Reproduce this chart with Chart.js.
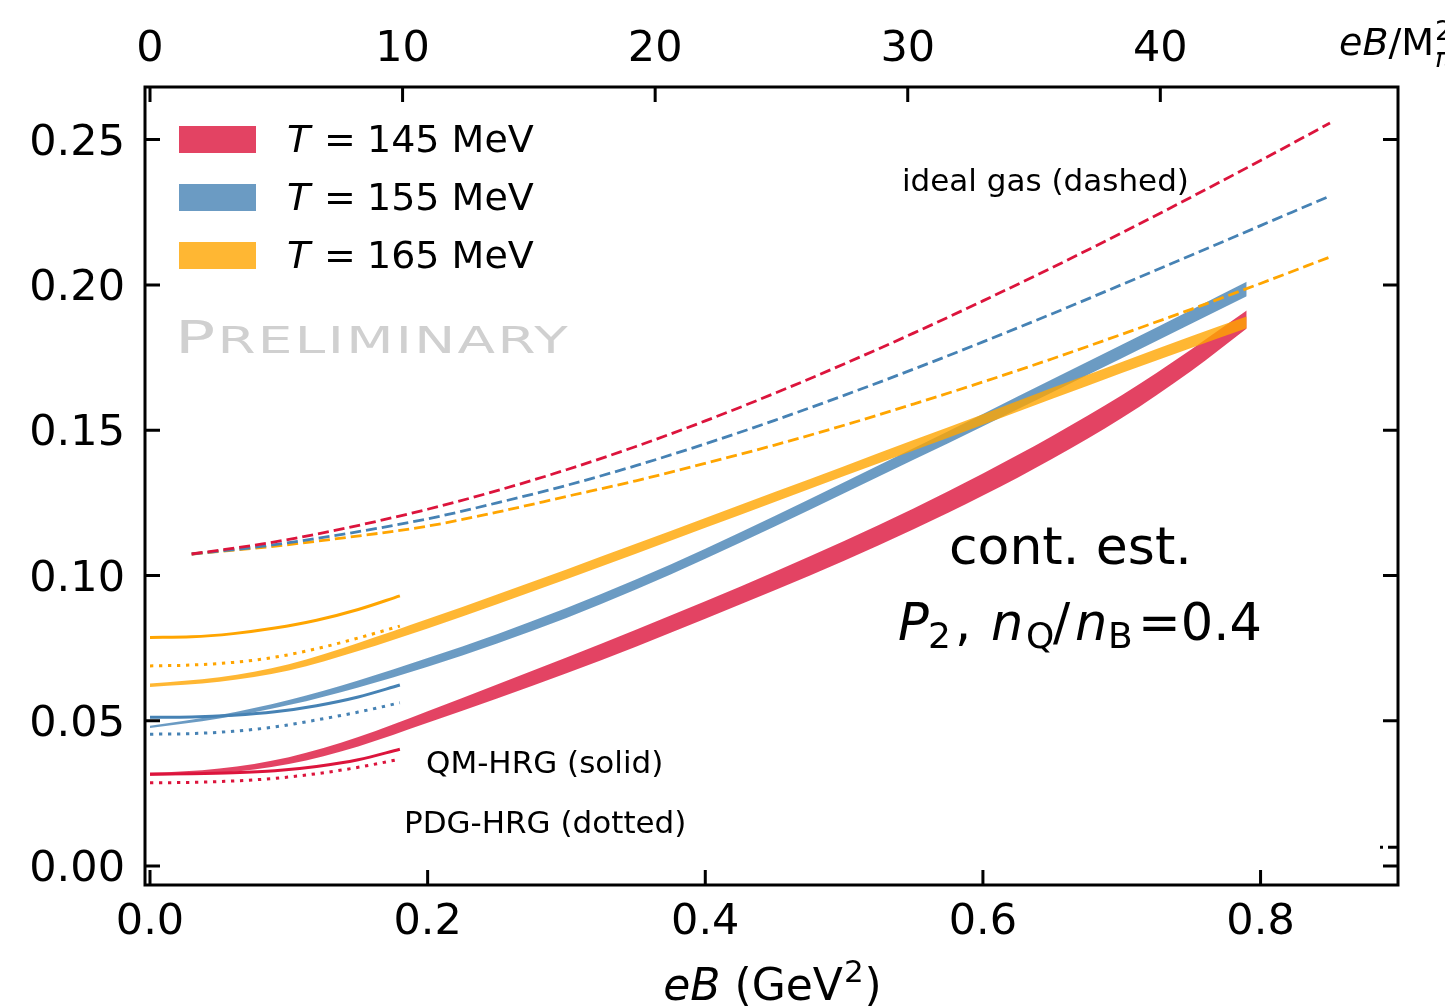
<!DOCTYPE html>
<html><head><meta charset="utf-8">
<script src="https://cdn.jsdelivr.net/npm/chart.js@4.4.1/dist/chart.umd.min.js"></script>
<style>html,body{margin:0;padding:0;background:#fff;} canvas{display:block;}</style>
</head><body>
<canvas id="c" width="1445" height="1008"></canvas>
<script>
// ---------- data ----------
const xTicks = [0, 0.2, 0.4, 0.6, 0.8];
const topTicks = [0, 10, 20, 30, 40];
const yTicks = [0, 0.05, 0.10, 0.15, 0.20, 0.25];
const seriesLabels = ['T = 145 MeV', 'T = 155 MeV', 'T = 165 MeV'];

// continuum-estimate bands (lattice)
const bandX = [0, 0.05, 0.1, 0.15, 0.2, 0.25, 0.3, 0.35, 0.4, 0.45, 0.5, 0.55, 0.6, 0.65, 0.7, 0.75, 0.79];
const band145Low  = [0.0310, 0.0320, 0.0351, 0.0412, 0.0493, 0.0577, 0.0664, 0.0755, 0.0851, 0.0949, 0.1051, 0.1159, 0.1275, 0.1402, 0.1542, 0.1704, 0.1850];
const band145High = [0.0320, 0.0336, 0.0375, 0.0444, 0.0533, 0.0625, 0.0718, 0.0813, 0.0911, 0.1013, 0.1119, 0.1231, 0.1351, 0.1480, 0.1620, 0.1778, 0.1912];
const band155Low  = [0.0475, 0.0508, 0.0554, 0.0615, 0.0686, 0.0766, 0.0854, 0.0952, 0.1058, 0.1169, 0.1283, 0.1398, 0.1514, 0.1631, 0.1748, 0.1866, 0.1961];
const band155High = [0.0483, 0.0520, 0.0572, 0.0639, 0.0716, 0.0798, 0.0888, 0.0986, 0.1092, 0.1205, 0.1321, 0.1438, 0.1556, 0.1675, 0.1794, 0.1914, 0.2011];
const band165Low  = [0.0616, 0.0634, 0.0673, 0.0740, 0.0818, 0.0901, 0.0987, 0.1075, 0.1164, 0.1253, 0.1342, 0.1430, 0.1519, 0.1608, 0.1697, 0.1783, 0.1851];
const band165High = [0.0628, 0.0650, 0.0695, 0.0768, 0.0850, 0.0935, 0.1021, 0.1109, 0.1198, 0.1287, 0.1376, 0.1466, 0.1555, 0.1646, 0.1735, 0.1823, 0.1891];

// ideal gas (dashed)
const idealX   = [0.03, 0.08, 0.13, 0.2, 0.25, 0.3, 0.35, 0.4, 0.45, 0.5, 0.55, 0.6, 0.65, 0.7, 0.75, 0.8, 0.85];
const ideal145 = [0.1074, 0.1108, 0.1152, 0.1228, 0.1292, 0.1364, 0.1444, 0.1532, 0.1627, 0.1728, 0.1834, 0.1945, 0.2060, 0.2179, 0.2302, 0.2428, 0.2557];
const ideal155 = [0.1074, 0.1100, 0.1135, 0.1195, 0.1250, 0.1310, 0.1378, 0.1453, 0.1534, 0.1620, 0.1710, 0.1804, 0.1901, 0.2001, 0.2102, 0.2204, 0.2306];
const ideal165 = [0.1074, 0.1096, 0.1124, 0.1170, 0.1218, 0.1272, 0.1326, 0.1386, 0.1449, 0.1517, 0.1590, 0.1666, 0.1746, 0.1830, 0.1916, 0.2005, 0.2096];

// HRG models
const hrgX = [0, 0.03, 0.06, 0.09, 0.12, 0.15, 0.18];
const qm145  = [0.0317, 0.0318, 0.0321, 0.0328, 0.0343, 0.0366, 0.0402];
const qm155  = [0.0512, 0.0513, 0.0519, 0.0531, 0.0552, 0.0582, 0.0623];
const qm165  = [0.0787, 0.0789, 0.0800, 0.0819, 0.0846, 0.0883, 0.0930];
const pdg145 = [0.0287, 0.0288, 0.0293, 0.0302, 0.0318, 0.0340, 0.0368];
const pdg155 = [0.0454, 0.0456, 0.0464, 0.0479, 0.0503, 0.0530, 0.0562];
const pdg165 = [0.0689, 0.0692, 0.0701, 0.0719, 0.0748, 0.0785, 0.0826];

// ---------- styling ----------
const lineCol = ['#dc143c', '#4682b4', '#ffa500'];
const bandCol = ['rgba(220,20,60,0.8)', 'rgba(70,130,180,0.8)', 'rgba(255,165,0,0.8)'];
const FONT = '"DejaVu Sans"';

const pts = (xs, ys) => xs.map((x, i) => ({x, y: ys[i]}));
const line = (xs, ys, col, dash, w) => ({
  data: pts(xs, ys), borderColor: col, borderWidth: w, borderDash: dash,
  borderCapStyle: 'butt', pointRadius: 0, fill: false, order: 0,
  cubicInterpolationMode: 'monotone'
});
const datasets = [
  line(idealX, ideal145, lineCol[0], [11, 5], 2.8),
  line(idealX, ideal155, lineCol[1], [11, 5], 2.8),
  line(idealX, ideal165, lineCol[2], [11, 5], 2.8),
  line(hrgX, qm145, lineCol[0], [], 3),
  line(hrgX, qm155, lineCol[1], [], 3),
  line(hrgX, qm165, lineCol[2], [], 3),
  line(hrgX, pdg145, lineCol[0], [3.3, 5.7], 3),
  line(hrgX, pdg155, lineCol[1], [3.3, 5.7], 3),
  line(hrgX, pdg165, lineCol[2], [3.3, 5.7], 3),
];
function addBand(lo, hi, col, ord) {
  const li = datasets.length;
  datasets.push({data: pts(bandX, lo), borderWidth: 0, borderColor: 'rgba(0,0,0,0)', pointRadius: 0,
    fill: false, order: ord, cubicInterpolationMode: 'monotone'});
  datasets.push({data: pts(bandX, hi), borderWidth: 0, borderColor: 'rgba(0,0,0,0)', pointRadius: 0,
    fill: li, backgroundColor: col, order: ord, cubicInterpolationMode: 'monotone'});
}
addBand(band165Low, band165High, bandCol[2], 1);
addBand(band155Low, band155High, bandCol[1], 2);
addBand(band145Low, band145High, bandCol[0], 3);

// ---------- text helpers ----------
function txt(ctx, s, x, y, size, style) {
  ctx.font = (style || '') + ' ' + size + 'px ' + FONT;
  ctx.fillText(s, x, y);
  return ctx.measureText(s).width;
}

const deco = {
  id: 'deco',
  afterDatasetsDraw(chart) {
    const {ctx, chartArea: a, scales} = chart;
    ctx.save();
    // frame
    ctx.strokeStyle = '#000'; ctx.lineWidth = 3;
    ctx.strokeRect(a.left, a.top, a.right - a.left, a.bottom - a.top);
    // inward ticks
    const TL = 15;
    ctx.beginPath();
    xTicks.forEach(v => { const p = scales.x.getPixelForValue(v); ctx.moveTo(p, a.bottom); ctx.lineTo(p, a.bottom - TL); });
    topTicks.forEach(v => { const p = scales.x2.getPixelForValue(v); ctx.moveTo(p, a.top); ctx.lineTo(p, a.top + TL); });
    yTicks.forEach(v => { const p = scales.y.getPixelForValue(v);
      ctx.moveTo(a.left, p); ctx.lineTo(a.left + TL, p);
      ctx.moveTo(a.right, p); ctx.lineTo(a.right - TL, p); });
    ctx.stroke();
    // small stray marks near bottom right
    const py = scales.y.getPixelForValue(0.0065);
    ctx.beginPath(); ctx.moveTo(a.right, py); ctx.lineTo(a.right - 10, py);
    ctx.moveTo(a.right - 15, py); ctx.lineTo(a.right - 18, py); ctx.stroke();

    ctx.fillStyle = '#000'; ctx.textBaseline = 'alphabetic'; ctx.textAlign = 'left';
    // legend
    const rows = [152, 210, 268];
    seriesLabels.forEach((lab, i) => {
      ctx.fillStyle = bandCol[i];
      ctx.fillRect(179, rows[i] - 26, 77, 27);
      ctx.fillStyle = '#000';
      txt(ctx, 'T', 287, rows[i], 38, 'italic');
      txt(ctx, '=', 324, rows[i], 38, '');
      txt(ctx, lab.slice(4), 367, rows[i], 38, '');
    });
    // preliminary watermark (extended small caps)
    ctx.save();
    ctx.fillStyle = '#d0d0d0';
    ctx.translate(175, 353);
    ctx.scale(1.48, 1);
    const pw = txt(ctx, 'P', 0, 0, 45, '500');
    ctx.letterSpacing = '1.6px';
    txt(ctx, 'RELIMINARY', pw + 1.5, 0, 37, '500');
    ctx.letterSpacing = '0px';
    ctx.restore();
    ctx.fillStyle = '#000';
    // annotations
    txt(ctx, 'ideal gas (dashed)', 902, 191, 31, '');
    txt(ctx, 'QM-HRG (solid)', 426, 773, 31, '');
    txt(ctx, 'PDG-HRG (dotted)', 404, 833, 31, '');
    txt(ctx, 'cont. est.', 949, 564, 52, '');
    // P_2, n_Q/n_B=0.4
    txt(ctx, 'P', 898, 640, 51, 'italic');
    txt(ctx, '2', 928, 648, 36, '');
    txt(ctx, ',', 955, 640, 51, '');
    txt(ctx, 'n', 991, 640, 51, 'italic');
    txt(ctx, 'Q', 1026, 648, 36, '');
    txt(ctx, '/', 1053, 640, 51, '');
    txt(ctx, 'n', 1075, 640, 51, 'italic');
    txt(ctx, 'B', 1108, 648, 36, '');
    txt(ctx, '=0.4', 1138, 640, 51, '');
    // bottom axis title: eB (GeV^2)
    const cx = (a.left + a.right) / 2;
    let w = 0;
    ctx.font = 'italic 44px ' + FONT; w += ctx.measureText('eB').width;
    ctx.font = '44px ' + FONT; w += ctx.measureText(' (GeV').width + ctx.measureText(')').width;
    ctx.font = '31px ' + FONT; w += ctx.measureText('2').width;
    let x = cx - w / 2; const by = 1000;
    x += txt(ctx, 'eB', x, by, 44, 'italic');
    x += txt(ctx, ' (GeV', x, by, 44, '');
    x += txt(ctx, '2', x + 1, by - 18, 31, '');
    txt(ctx, ')', x + 2, by, 44, '');
    // top axis title: eB/M_pi^2
    let tx = 1339;
    tx += txt(ctx, 'eB', tx, 55, 38, 'italic');
    tx += txt(ctx, '/M', tx, 55, 38, '');
    txt(ctx, '2', tx + 1, 40, 27, '');
    txt(ctx, 'π', tx + 1, 67, 27, 'italic');
    ctx.restore();
  }
};

Chart.defaults.font.family = FONT;
Chart.defaults.color = '#000';

new Chart(document.getElementById('c'), {
  type: 'line',
  data: {datasets},
  options: {
    responsive: false, animation: false, devicePixelRatio: 1,
    layout: {padding: {left: 0, right: 47, top: 0, bottom: 0}},
    plugins: {legend: {display: false}, tooltip: {enabled: false}},
    elements: {point: {radius: 0}},
    scales: {
      x: {
        type: 'linear', position: 'bottom', min: -0.0036, max: 0.899,
        grid: {display: false, drawTicks: false}, border: {display: false},
        afterBuildTicks: s => { s.ticks = xTicks.map(v => ({value: v})); },
        afterFit: s => { s.height = 123; },
        ticks: {font: {size: 43}, padding: 12, maxRotation: 0, callback: v => v.toFixed(1)}
      },
      x2: {
        type: 'linear', position: 'top', min: -0.198, max: 49.41,
        grid: {display: false, drawTicks: false}, border: {display: false},
        afterBuildTicks: s => { s.ticks = topTicks.map(v => ({value: v})); },
        afterFit: s => { s.height = 87; },
        ticks: {font: {size: 43}, padding: 11, maxRotation: 0, callback: v => String(v)}
      },
      y: {
        type: 'linear', position: 'left', min: -0.0065, max: 0.2681,
        grid: {display: false, drawTicks: false}, border: {display: false},
        afterBuildTicks: s => { s.ticks = yTicks.map(v => ({value: v})); },
        afterFit: s => { s.width = 145; },
        ticks: {font: {size: 43}, padding: 20, labelOffset: 4, callback: v => v.toFixed(2)}
      }
    }
  },
  plugins: [deco]
});
</script>
</body></html>
